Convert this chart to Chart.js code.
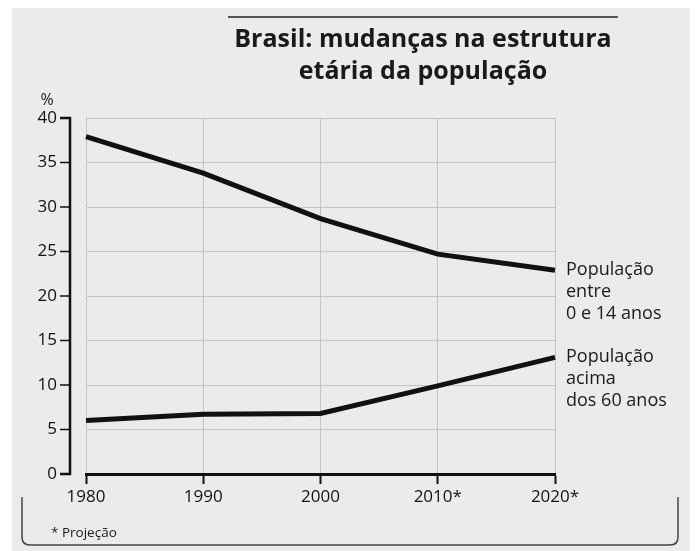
<!DOCTYPE html>
<html lang="pt-br">
<head>
    <meta charset="UTF-8">
    <title>Brasil: estrutura etária</title>
    <script src="https://cdn.jsdelivr.net/npm/chart.js"></script>
    <style>
        html, body { margin: 0; padding: 0; background: #fff; }
        #box { width: 695px; height: 551px; }
    </style>
</head>
<body>
    <div id="box"><canvas id="grafico"></canvas></div>
<script>
    // dados
    var anos = ['1980', '1990', '2000', '2010*', '2020*'];
    var pop_0_14 = [37.9, 33.8, 28.7, 24.7, 22.9];
    var pop_60 = [6.0, 6.7, 6.8, 9.9, 13.1];
    var ticks_y = [0, 5, 10, 15, 20, 25, 30, 35, 40];

    var fonte = '"Open Sans", "DejaVu Sans", sans-serif';

    // fundo, titulo, eixo y separado, rotulos e chave do rodape
    var extras = {
        id: 'extras',
        beforeDraw(chart) {
            var c = chart.ctx;
            c.save();
            c.fillStyle = '#ffffff';
            c.fillRect(0, 0, 695, 551);
            c.fillStyle = '#ebebeb';
            c.fillRect(12, 8, 678, 543);
            c.restore();
        },
        afterDraw(chart) {
            var c = chart.ctx;
            var y = chart.scales.y;
            c.save();
            // linha acima do titulo
            c.strokeStyle = '#555';
            c.lineWidth = 2;
            c.beginPath();
            c.moveTo(228, 17);
            c.lineTo(618, 17);
            c.stroke();

            c.fillStyle = '#1a1a1a';
            c.textAlign = 'center';
            c.textBaseline = 'middle';
            c.font = 'bold 25px ' + fonte;
            c.fillText('Brasil: mudanças na estrutura', 423, 40);
            c.fillText('etária da população', 423, 72);

            c.font = '16px ' + fonte;
            c.fillText('%', 47, 100);

            // eixo y afastado da area do grafico
            c.strokeStyle = '#111';
            c.lineWidth = 2.5;
            c.beginPath();
            c.moveTo(60, y.getPixelForValue(40));
            c.lineTo(70, y.getPixelForValue(40));
            c.lineTo(70, y.getPixelForValue(0));
            c.lineTo(60, y.getPixelForValue(0));
            c.stroke();
            c.lineWidth = 1.5;
            for (var i = 1; i < ticks_y.length - 1; i++) {
                var py = y.getPixelForValue(ticks_y[i]);
                c.beginPath();
                c.moveTo(60, py);
                c.lineTo(70, py);
                c.stroke();
            }

            // rotulos das series
            c.textAlign = 'left';
            c.font = '18px ' + fonte;
            var l1 = ['População', 'entre', '0 e 14 anos'];
            var l2 = ['População', 'acima', 'dos 60 anos'];
            for (var k = 0; k < 3; k++) {
                c.fillText(l1[k], 566, 270 + k * 22);
                c.fillText(l2[k], 566, 357 + k * 22);
            }

            // chave do rodape
            c.strokeStyle = '#444';
            c.lineWidth = 1.5;
            c.beginPath();
            c.moveTo(22, 497);
            c.lineTo(22, 537);
            c.quadraticCurveTo(22, 545, 30, 545);
            c.lineTo(670, 545);
            c.quadraticCurveTo(678, 545, 678, 537);
            c.lineTo(678, 497);
            c.stroke();

            c.font = '13.5px ' + fonte;
            c.fillText('* Projeção', 51, 533);
            c.restore();
        }
    };

    var config = {
        type: 'line',
        data: {
            labels: anos,
            datasets: [{
                label: 'População entre 0 e 14 anos',
                data: pop_0_14,
                borderColor: '#111',
                borderWidth: 5,
                pointRadius: 0,
                tension: 0
            }, {
                label: 'População acima dos 60 anos',
                data: pop_60,
                borderColor: '#111',
                borderWidth: 5,
                pointRadius: 0,
                tension: 0
            }]
        },
        options: {
            responsive: true,
            maintainAspectRatio: false,
            animation: false,
            layout: { padding: { left: 0, right: 140, top: 118, bottom: 0 } },
            plugins: { legend: { display: false }, tooltip: { enabled: false } },
            scales: {
                x: {
                    offset: false,
                    grid: { color: '#c4c4c4', lineWidth: 1, tickLength: 10, tickColor: '#111', tickWidth: 2 },
                    border: { color: '#111', width: 3 },
                    ticks: { color: '#111', font: { family: fonte, size: 17 }, padding: 3, maxRotation: 0 },
                    afterFit(s) { s.height = 77; }
                },
                y: {
                    min: 0,
                    max: 40,
                    afterBuildTicks(s) { s.ticks = ticks_y.map(v => ({ value: v })); },
                    grid: { color: '#c4c4c4', lineWidth: 1, drawTicks: false },
                    border: { display: false },
                    ticks: { color: '#111', font: { family: fonte, size: 17 }, padding: 29 },
                    afterFit(s) { s.width = 86; }
                }
            }
        },
        plugins: [extras]
    };

    var grafico = new Chart(document.getElementById('grafico'), config);
</script>
</body>
</html>
